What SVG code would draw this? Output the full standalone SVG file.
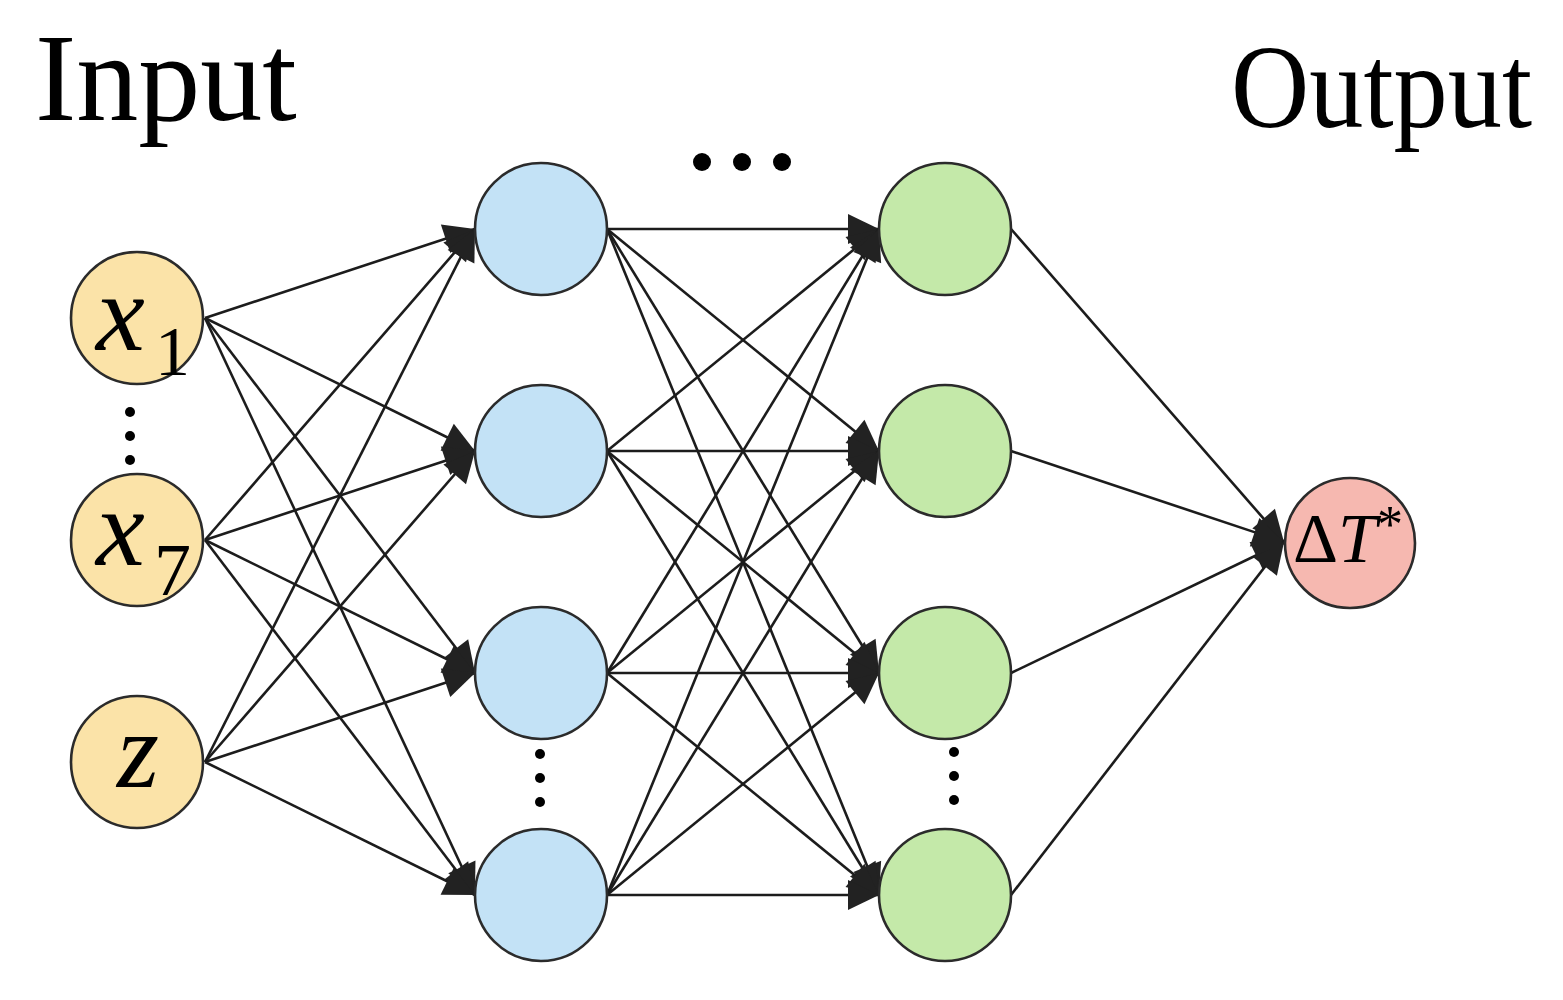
<svg xmlns="http://www.w3.org/2000/svg" width="1563" height="1000" viewBox="0 0 1563 1000">
<defs>
<style>
.node{stroke:#2b2b2b;stroke-width:2.6}
.in{fill:#fbe3a8}
.h1{fill:#c3e2f6}
.h2{fill:#c4e9a9}
.out{fill:#f6b8b0}
.edge{stroke:#1c1c1c;stroke-width:2.6;fill:none}
.lbl{font-family:"Liberation Serif","Times New Roman",serif;fill:#000}
.dot{fill:#000}
</style>
<marker id="ah" markerUnits="userSpaceOnUse" markerWidth="36" markerHeight="36" viewBox="-34 -18 36 36" refX="0" refY="0" orient="auto">
<path d="M-31,-15 L0,0 L-31,15 Z" fill="#222"/>
</marker>
</defs>
<rect width="1563" height="1000" fill="#fff"/>
<g id="connectors">
<path class="edge" marker-end="url(#ah)" d="M205,318 L475,229"/>
<path class="edge" marker-end="url(#ah)" d="M205,318 L475,451"/>
<path class="edge" marker-end="url(#ah)" d="M205,318 L475,673"/>
<path class="edge" marker-end="url(#ah)" d="M205,318 L475,895"/>
<path class="edge" marker-end="url(#ah)" d="M205,540 L475,229"/>
<path class="edge" marker-end="url(#ah)" d="M205,540 L475,451"/>
<path class="edge" marker-end="url(#ah)" d="M205,540 L475,673"/>
<path class="edge" marker-end="url(#ah)" d="M205,540 L475,895"/>
<path class="edge" marker-end="url(#ah)" d="M205,762 L475,229"/>
<path class="edge" marker-end="url(#ah)" d="M205,762 L475,451"/>
<path class="edge" marker-end="url(#ah)" d="M205,762 L475,673"/>
<path class="edge" marker-end="url(#ah)" d="M205,762 L475,895"/>
<path class="edge" marker-end="url(#ah)" d="M607,229 L879,229"/>
<path class="edge" marker-end="url(#ah)" d="M607,229 L879,451"/>
<path class="edge" marker-end="url(#ah)" d="M607,229 L879,673"/>
<path class="edge" marker-end="url(#ah)" d="M607,229 L879,895"/>
<path class="edge" marker-end="url(#ah)" d="M607,451 L879,229"/>
<path class="edge" marker-end="url(#ah)" d="M607,451 L879,451"/>
<path class="edge" marker-end="url(#ah)" d="M607,451 L879,673"/>
<path class="edge" marker-end="url(#ah)" d="M607,451 L879,895"/>
<path class="edge" marker-end="url(#ah)" d="M607,673 L879,229"/>
<path class="edge" marker-end="url(#ah)" d="M607,673 L879,451"/>
<path class="edge" marker-end="url(#ah)" d="M607,673 L879,673"/>
<path class="edge" marker-end="url(#ah)" d="M607,673 L879,895"/>
<path class="edge" marker-end="url(#ah)" d="M607,895 L879,229"/>
<path class="edge" marker-end="url(#ah)" d="M607,895 L879,451"/>
<path class="edge" marker-end="url(#ah)" d="M607,895 L879,673"/>
<path class="edge" marker-end="url(#ah)" d="M607,895 L879,895"/>
<path class="edge" marker-end="url(#ah)" d="M1011,229 L1284,542"/>
<path class="edge" marker-end="url(#ah)" d="M1011,451 L1284,542"/>
<path class="edge" marker-end="url(#ah)" d="M1011,673 L1284,542"/>
<path class="edge" marker-end="url(#ah)" d="M1011,895 L1284,542"/>
</g>
<g id="title-input"><text class="lbl" x="35" y="120" font-size="124">Input</text></g>
<g id="title-output"><text class="lbl" x="1231" y="127" font-size="118" textLength="301" lengthAdjust="spacingAndGlyphs">Output</text></g>
<g id="node-x1">
<circle class="node in" cx="137" cy="318" r="66"/>
<text class="lbl" x="96" y="350" font-size="110" font-style="italic">x</text>
<text class="lbl" x="155" y="375" font-size="70">1</text>
</g>
<g id="node-x7">
<circle class="node in" cx="137" cy="540" r="66"/>
<text class="lbl" x="96" y="565" font-size="110" font-style="italic">x</text>
<text class="lbl" x="154" y="595" font-size="74">7</text>
</g>
<g id="node-z">
<circle class="node in" cx="137" cy="762" r="66"/>
<text class="lbl" x="117" y="787" font-size="108" font-style="italic">z</text>
</g>
<g id="node-h1-1"><circle class="node h1" cx="541" cy="229" r="66"/></g>
<g id="node-h1-2"><circle class="node h1" cx="541" cy="451" r="66"/></g>
<g id="node-h1-3"><circle class="node h1" cx="541" cy="673" r="66"/></g>
<g id="node-h1-4"><circle class="node h1" cx="541" cy="895" r="66"/></g>
<g id="node-h2-1"><circle class="node h2" cx="945" cy="229" r="66"/></g>
<g id="node-h2-2"><circle class="node h2" cx="945" cy="451" r="66"/></g>
<g id="node-h2-3"><circle class="node h2" cx="945" cy="673" r="66"/></g>
<g id="node-h2-4"><circle class="node h2" cx="945" cy="895" r="66"/></g>
<g id="node-out">
<circle class="node out" cx="1350" cy="543" r="65"/>
<text class="lbl" x="1293" y="562" font-size="70">Δ<tspan font-style="italic">T</tspan><tspan font-size="52" dy="-20">*</tspan></text>
</g>
<g id="ellipses">
<circle class="dot" cx="130" cy="412" r="5"/>
<circle class="dot" cx="130" cy="436" r="5"/>
<circle class="dot" cx="130" cy="460" r="5"/>
<circle class="dot" cx="540" cy="754" r="5"/>
<circle class="dot" cx="540" cy="778" r="5"/>
<circle class="dot" cx="540" cy="802" r="5"/>
<circle class="dot" cx="954" cy="752" r="5"/>
<circle class="dot" cx="954" cy="776" r="5"/>
<circle class="dot" cx="954" cy="800" r="5"/>
<circle class="dot" cx="702" cy="162" r="9"/>
<circle class="dot" cx="742" cy="162" r="9"/>
<circle class="dot" cx="782" cy="162" r="9"/>
</g>
</svg>
